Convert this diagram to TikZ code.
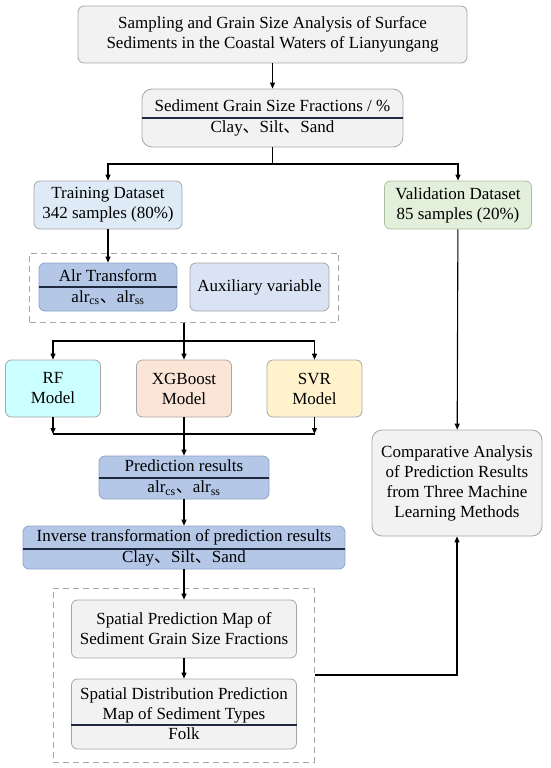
\documentclass[tikz,border=0pt]{standalone}
\usepackage{fontspec}
\setmainfont{Liberation Serif}
\newfontfamily\cjk{Noto Sans CJK SC}
\usetikzlibrary{arrows.meta,positioning,fit,calc}
\definecolor{edgegray}{HTML}{A6A6A6}
\definecolor{boxgray}{HTML}{F2F2F2}
\definecolor{trainfill}{HTML}{DEEBF7}
\definecolor{validfill}{HTML}{E2EFDA}
\definecolor{validedge}{HTML}{A9BFA0}
\definecolor{alrfill}{HTML}{B4C7E7}
\definecolor{alredge}{HTML}{8FA3C8}
\definecolor{auxfill}{HTML}{DAE3F3}
\definecolor{rffill}{HTML}{CCFFFF}
\definecolor{xgbfill}{HTML}{FBE5D6}
\definecolor{svrfill}{HTML}{FFF2CC}
\definecolor{sepdark}{HTML}{1F2A40}
\newcommand{\dun}{{\cjk 、}}

\begin{document}
\begin{tikzpicture}[
    x=1pt,y=-1pt,
    font=\fontsize{17}{20}\selectfont,
    box/.style={draw=edgegray,rounded corners=6pt,align=center,inner sep=0pt,line width=0.8pt},
    plain/.style={box,fill=boxgray},
    blue/.style={box,draw=alredge,fill=alrfill},
    model/.style={box,minimum width=95pt,minimum height=57pt},
    grp/.style={draw=edgegray,dash pattern=on 6pt off 4pt,line width=1pt,inner sep=0pt},
    sep/.style={draw=sepdark,line width=1.2pt},
    arr/.style={-{Triangle[length=6pt,width=5pt]},line width=1.1pt},
    lin/.style={line width=1.1pt},
  ]
    \useasboundingbox (0,0) rectangle (550,768);

    \node[plain,minimum width=389pt,minimum height=57pt] (samp) at (272.5,34.5)
      {Sampling and Grain Size Analysis of Surface\\Sediments in the Coastal Waters of Lianyungang};
    \node[plain,rounded corners=10pt,minimum width=261pt,minimum height=58pt] (frac) at (272.5,118)
      {Sediment Grain Size Fractions / \%\\[1pt]Clay\dun Silt\dun Sand};

    \node[box,fill=trainfill,minimum width=148pt,minimum height=48pt] (train) at (108,205)
      {Training Dataset\\342 samples (80\%)};
    \node[box,draw=validedge,fill=validfill,minimum width=147pt,minimum height=48pt] (valid) at (458,205)
      {Validation Dataset\\85 samples (20\%)};

    \node[blue,minimum width=138pt,minimum height=48pt] (alr) at (108,287)
      {Alr Transform\\[1pt]alr\textsubscript{cs}\dun alr\textsubscript{ss}};
    \node[box,fill=auxfill,minimum width=139pt,minimum height=48pt] (aux) at (259.5,287)
      {Auxiliary variable};
    \node[grp,minimum width=309pt,minimum height=69pt] (dash1) at (184,287.5) {};

    \node[model,fill=rffill] (rf) at (53,388.5) {RF\\Model};
    \node[model,fill=xgbfill] (xgb) at (184,388.5) {XGBoost\\Model};
    \node[model,fill=svrfill] (svr) at (314.5,388.5) {SVR\\Model};

    \node[blue,minimum width=170pt,minimum height=43pt] (pred) at (184,477.5)
      {Prediction results\\[1pt]alr\textsubscript{cs}\dun alr\textsubscript{ss}};
    \node[blue,minimum width=322pt,minimum height=43pt] (inv) at (184,547.5)
      {Inverse transformation of prediction results\\[1pt]Clay\dun Silt\dun Sand};

    \node[grp,minimum width=261pt,minimum height=174pt] (dash2) at (183.5,675) {};
    \node[plain,minimum width=225pt,minimum height=58pt] (spm) at (184,629)
      {Spatial Prediction Map of\\Sediment Grain Size Fractions};
    \node[plain,minimum width=225pt,minimum height=70pt] (sdpm) at (184,714)
      {Spatial Distribution Prediction\\Map of Sediment Types\\Folk};

    \node[plain,rounded corners=10pt,minimum width=170pt,minimum height=106pt] (comp) at (457,483)
      {Comparative Analysis\\of Prediction Results\\from Three Machine\\Learning Methods};

    % dividers in the split boxes
    \draw[sep] (frac.west) -- (frac.east);
    \draw[sep] (alr.west) -- (alr.east);
    \draw[sep] ([yshift=-0.5pt]pred.west) -- ([yshift=-0.5pt]pred.east);
    \draw[sep] ([yshift=-1.5pt]inv.west) -- ([yshift=-1.5pt]inv.east);
    \draw[sep] ([yshift=-11pt]sdpm.west) -- ([yshift=-11pt]sdpm.east);

    % connectors
    \coordinate (split) at (272.5,164);
    \coordinate (fan) at (184,341);
    \coordinate (merge) at (184,434);
    \draw[arr] (samp) -- (frac);
    \draw[lin] (frac) -- (split);
    \draw[arr] (split) -| (train);
    \draw[arr] (split) -| (valid);
    \draw[arr] (train) -- (alr);
    \draw[lin] (dash1) -- (fan);
    \draw[arr] (fan) -| (rf);
    \draw[arr] (fan) -- (xgb);
    \draw[arr] (fan) -| (svr);
    \draw[arr] (rf) -- (rf |- merge);
    \draw[arr] (svr) -- (svr |- merge);
    \draw[lin] (rf |- merge) -- (svr |- merge);
    \draw[arr] (xgb) -- (pred);
    \draw[arr] (pred) -- (inv);
    \draw[arr] (inv) -- (spm);
    \draw[arr] (spm) -- (sdpm);
    \draw[arr] (valid) -- (comp);
    \draw[arr] (dash2.east) -| (comp.south);
\end{tikzpicture}
\end{document}
